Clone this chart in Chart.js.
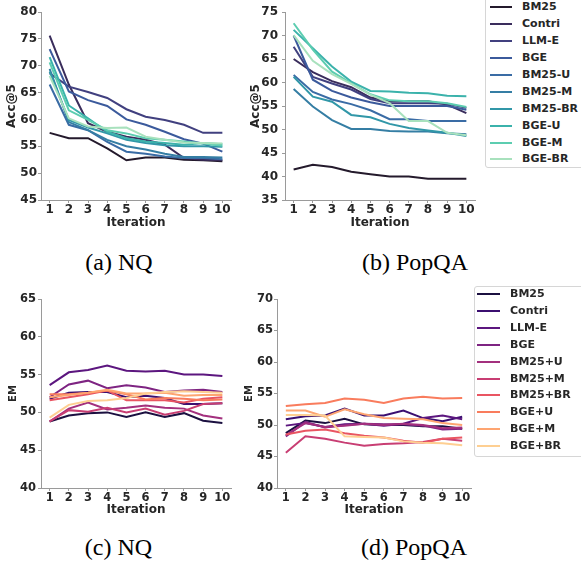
<!DOCTYPE html>
<html><head><meta charset="utf-8">
<script src="https://cdn.jsdelivr.net/npm/chart.js@4/dist/chart.umd.min.js"></script>
<style>
html,body{margin:0;padding:0;background:#fff;}
#wrap{position:relative;width:581px;height:566px;overflow:hidden;background:#fff;}
canvas{position:absolute;}
.cap{position:absolute;font-family:"Liberation Serif","DejaVu Serif",serif;font-size:24px;color:#000;transform:translate(-50%,-50%);white-space:nowrap;}
.legend{position:absolute;border:1px solid #d6d6d6;border-radius:3px;background:#fff;box-sizing:border-box;}
.lline{position:absolute;height:2px;margin-top:-1px;}
.ltext{position:absolute;font:bold 11px "DejaVu Sans";color:#262626;line-height:14px;margin-top:-7px;white-space:nowrap;}
</style></head>
<body><div id="wrap">
<canvas id="ca"></canvas><canvas id="cb"></canvas><canvas id="cc"></canvas><canvas id="cd"></canvas>
<div class="cap" style="left:119px;top:262px">(a) NQ</div>
<div class="cap" style="left:415px;top:262px">(b) PopQA</div>
<div class="cap" style="left:118.5px;top:547px">(c) NQ</div>
<div class="cap" style="left:414px;top:547px">(d) PopQA</div>
<div id="legTop" class="legend"></div>
<div id="legBot" class="legend"></div>
</div>
<script>
// ---------- data ----------
const iterations = [1,2,3,4,5,6,7,8,9,10];
const accTicksNQ = [45,50,55,60,65,70,75,80];
const accTicksPop = [35,40,45,50,55,60,65,70,75];
const emTicksNQ = [40,45,50,55,60,65];
const emTicksPop = [40,45,50,55,60,65,70];

const namesTop = ['BM25','Contri','LLM-E','BGE','BM25-U','BM25-M','BM25-BR','BGE-U','BGE-M','BGE-BR'];
const namesBot = ['BM25','Contri','LLM-E','BGE','BM25+U','BM25+M','BM25+BR','BGE+U','BGE+M','BGE+BR'];
const colorsTop = ['#241a2c','#3a2d5c','#41407f','#3b5a9c','#3a6ca5','#357ea4','#3197a8','#3bb2ab','#5ccdb0','#a8e1bd'];
const colorsBot = ['#1b1040','#3b0f70','#5c167f','#7e2482','#a3307e','#c83e73','#e95562','#f97c5d','#fea571','#fecf92'];

// (a) NQ Acc@5
const accNQ_BM25   = [57.5,56.5,56.5,54.6,52.4,52.9,52.9,52.5,52.4,52.2];
const accNQ_Contri = [75.6,66.5,59.3,57.7,56.8,56.2,55.3,52.8,52.5,52.4];
const accNQ_LLME   = [68.6,66.1,65.1,64.0,61.9,60.5,59.9,59.0,57.5,57.5];
const accNQ_BGE    = [73.1,65.2,63.6,62.5,60.0,59.0,57.7,56.3,55.5,54.0];
const accNQ_BM25U  = [66.5,59.0,58.0,55.8,54.0,53.6,53.1,52.8,52.8,52.6];
const accNQ_BM25M  = [69.4,59.5,58.0,56.2,55.0,54.4,53.6,53.0,53.0,52.9];
const accNQ_BM25BR = [68.9,59.9,58.5,57.4,56.2,55.6,55.2,55.0,55.0,54.9];
const accNQ_BGEU   = [71.6,62.6,60.2,57.7,56.5,55.9,55.6,55.3,55.6,55.4];
const accNQ_BGEM   = [70.6,61.7,59.9,58.0,57.4,56.5,56.2,55.9,55.5,55.1];
const accNQ_BGEBR  = [68.1,60.2,58.7,58.4,58.5,56.8,56.2,55.7,55.6,55.5];

// (b) PopQA Acc@5
const accPop_BM25   = [41.5,42.5,42.0,41.0,40.5,40.0,40.0,39.5,39.5,39.5];
const accPop_Contri = [65.0,62.2,60.3,59.0,56.8,56.0,56.0,56.0,55.3,53.5];
const accPop_LLME   = [67.6,61.2,59.8,58.5,56.5,55.6,55.6,55.6,55.5,54.6];
const accPop_BGE    = [70.0,60.6,58.2,56.8,55.8,55.0,55.0,55.0,55.0,54.2];
const accPop_BM25U  = [61.6,58.0,56.4,55.4,54.1,52.2,52.2,51.8,51.8,51.8];
const accPop_BM25M  = [58.6,54.9,52.0,50.1,50.1,49.7,49.6,49.6,49.2,49.0];
const accPop_BM25BR = [61.2,57.0,55.9,53.1,52.6,51.2,50.3,49.8,49.3,48.6];
const accPop_BGEU   = [71.2,67.3,63.4,60.2,58.2,58.1,57.8,57.7,57.2,57.1];
const accPop_BGEM   = [72.6,67.0,62.3,59.8,57.5,56.2,56.0,56.0,55.6,54.8];
const accPop_BGEBR  = [70.1,64.6,61.8,59.7,57.4,55.6,51.8,51.8,49.3,48.8];

// (c) NQ EM
const emNQ_BM25   = [48.8,49.6,49.9,50.0,49.4,50.0,49.4,49.9,48.9,48.6];
const emNQ_Contri = [51.8,52.6,52.7,52.7,52.0,52.2,51.9,51.1,51.1,51.2];
const emNQ_LLME   = [53.6,55.3,55.6,56.2,55.5,55.4,55.5,55.0,55.0,54.8];
const emNQ_BGE    = [52.0,53.7,54.2,53.2,53.6,53.3,52.7,52.9,53.0,52.7];
const emNQ_BM25U  = [48.8,50.5,51.3,50.4,50.6,50.9,50.6,50.5,49.6,49.2];
const emNQ_BM25M  = [48.8,50.3,50.1,50.6,50.0,50.5,49.7,50.2,51.1,51.2];
const emNQ_BM25BR = [51.6,52.0,52.4,52.9,51.6,51.6,51.6,51.3,51.8,52.0];
const emNQ_BGEU   = [52.4,52.4,52.6,52.9,52.4,51.7,51.9,51.8,51.6,51.7];
const emNQ_BGEM   = [52.0,52.3,52.6,53.0,52.5,52.5,52.6,52.2,52.3,52.3];
const emNQ_BGEBR  = [49.3,51.0,51.5,51.6,51.9,52.5,52.7,52.8,52.7,52.6];

// (d) PopQA EM
const emPop_BM25   = [48.7,50.7,50.3,51.0,50.1,50.0,50.0,49.8,49.8,49.4];
const emPop_Contri = [50.9,51.4,51.5,52.6,51.5,51.5,52.3,51.1,50.6,51.3];
const emPop_LLME   = [49.9,50.3,49.7,50.1,50.2,49.9,50.2,51.1,51.5,50.9];
const emPop_BGE    = [48.2,50.5,49.6,50.0,50.2,50.1,50.1,49.9,49.3,49.4];
const emPop_BM25U  = [48.4,50.3,49.7,49.9,50.2,50.0,50.2,50.0,49.5,49.6];
const emPop_BM25M  = [45.6,48.2,47.8,47.2,46.7,47.0,47.1,47.3,47.8,47.5];
const emPop_BM25BR = [48.5,49.1,49.3,48.7,48.3,48.0,47.5,47.2,47.8,48.0];
const emPop_BGEU   = [53.0,53.3,53.5,54.2,54.0,53.5,54.2,54.5,54.2,54.3];
const emPop_BGEM   = [52.3,52.3,51.3,52.5,51.7,51.1,51.0,50.9,50.3,50.0];
const emPop_BGEBR  = [51.6,51.6,51.5,48.2,48.1,48.0,47.4,47.2,47.1,46.8];

// ---------- drawing ----------
Chart.defaults.font.family = 'DejaVu Sans';
const TXT = '#262626', SPINE = '#9a9a9a';

function panel(id, box, plot, yTicks, names, colors, series, yTitle, st) {
  const cv = document.getElementById(id);
  cv.width = box.w; cv.height = box.h;
  cv.style.left = box.x + 'px'; cv.style.top = box.y + 'px';
  cv.style.width = box.w + 'px'; cv.style.height = box.h + 'px';
  const xlh = st.xTitleSize * 1.2, ylh = st.yTitleSize * 1.2;
  new Chart(cv, {
    type: 'line',
    data: {
      datasets: names.map((n, i) => ({
        label: n,
        data: iterations.map((x, j) => ({x: x, y: series[i][j]})),
        borderColor: colors[i], backgroundColor: colors[i],
        borderWidth: 2, pointRadius: 0, tension: 0, fill: false,
        order: names.length - 1 - i
      }))
    },
    options: {
      responsive: false, animation: false, devicePixelRatio: 1,
      layout: {padding: {left: 0, top: plot.t - box.y, right: box.x + box.w - plot.r, bottom: 0}},
      plugins: {legend: {display: false}, tooltip: {enabled: false}},
      scales: {
        x: {
          type: 'linear', min: 0.55, max: 10.45,
          afterBuildTicks: s => { s.ticks = iterations.map(v => ({value: v})); },
          afterFit: s => { s.height = box.y + box.h - plot.b; },
          grid: {drawOnChartArea: false, drawTicks: true, tickLength: st.tl, tickColor: SPINE, tickWidth: 1},
          border: {display: true, color: SPINE, width: 1},
          ticks: {font: {size: st.tickSize, weight: 'bold'}, color: TXT, padding: st.xPad, maxRotation: 0, autoSkip: false},
          title: {display: true, text: 'Iteration', color: TXT, font: {size: st.xTitleSize, weight: 'bold'},
                  padding: {top: 0, bottom: (box.y + box.h) - st.xTitleY - xlh / 2}}
        },
        y: {
          min: yTicks[0], max: yTicks[yTicks.length - 1],
          afterBuildTicks: s => { s.ticks = yTicks.map(v => ({value: v})); },
          afterFit: s => { s.width = plot.l - box.x; },
          grid: {drawOnChartArea: false, drawTicks: true, tickLength: st.tl, tickColor: SPINE, tickWidth: 1},
          border: {display: true, color: SPINE, width: 1},
          ticks: {font: {size: st.tickSize, weight: 'bold'}, color: TXT, padding: st.yPad},
          title: {display: true, text: yTitle, color: TXT, font: {size: st.yTitleSize, weight: 'bold'},
                  padding: {top: st.yTitleX - box.x - ylh / 2, bottom: 0}}
        }
      }
    }
  });
}

const topStyle = {tickSize: 12, xTitleSize: 12, yTitleSize: 12, tl: 3, xPad: 0, yPad: 1, xTitleY: 223};
panel('ca', {x: 0, y: 0, w: 240, h: 236}, {l: 41, t: 12, r: 231, b: 200}, accTicksNQ, namesTop, colorsTop,
  [accNQ_BM25, accNQ_Contri, accNQ_LLME, accNQ_BGE, accNQ_BM25U, accNQ_BM25M, accNQ_BM25BR, accNQ_BGEU, accNQ_BGEM, accNQ_BGEBR],
  'Acc@5', Object.assign({}, topStyle, {yTitleX: 12}));
panel('cb', {x: 240, y: 0, w: 245, h: 236}, {l: 285, t: 12, r: 475, b: 200}, accTicksPop, namesTop, colorsTop,
  [accPop_BM25, accPop_Contri, accPop_LLME, accPop_BGE, accPop_BM25U, accPop_BM25M, accPop_BM25BR, accPop_BGEU, accPop_BGEM, accPop_BGEBR],
  'Acc@5', Object.assign({}, topStyle, {yTitleX: 256, yPad: 4}));

const botStyle = {tickSize: 11.5, xTitleSize: 12, yTitleSize: 10, tl: 3, xPad: 0, yPad: 2, xTitleY: 510};
panel('cc', {x: 0, y: 280, w: 240, h: 240}, {l: 41, t: 299, r: 231, b: 488}, emTicksNQ, namesBot, colorsBot,
  [emNQ_BM25, emNQ_Contri, emNQ_LLME, emNQ_BGE, emNQ_BM25U, emNQ_BM25M, emNQ_BM25BR, emNQ_BGEU, emNQ_BGEM, emNQ_BGEBR],
  'EM', Object.assign({}, botStyle, {yTitleX: 13}));
panel('cd', {x: 240, y: 280, w: 240, h: 240}, {l: 277, t: 299, r: 471, b: 488}, emTicksPop, namesBot, colorsBot,
  [emPop_BM25, emPop_Contri, emPop_LLME, emPop_BGE, emPop_BM25U, emPop_BM25M, emPop_BM25BR, emPop_BGEU, emPop_BGEM, emPop_BGEBR],
  'EM', Object.assign({}, botStyle, {yTitleX: 249, yPad: 1}));

// ---------- legends ----------
function legend(id, box, rowY0, rowStep, lineX, lineW, textX, names, colors) {
  const el = document.getElementById(id);
  el.style.left = box.x + 'px'; el.style.top = box.y + 'px';
  el.style.width = box.w + 'px'; el.style.height = box.h + 'px';
  names.forEach((n, i) => {
    const y = rowY0 + i * rowStep - box.y - 1;
    const ln = document.createElement('div');
    ln.className = 'lline';
    ln.style.left = (lineX - box.x - 1) + 'px'; ln.style.width = lineW + 'px';
    ln.style.top = y + 'px'; ln.style.background = colors[i];
    const tx = document.createElement('div');
    tx.className = 'ltext';
    tx.style.left = (textX - box.x - 1) + 'px'; tx.style.top = y + 'px';
    tx.textContent = n;
    el.appendChild(ln); el.appendChild(tx);
  });
}
legend('legTop', {x: 485, y: -3, w: 110, h: 171}, 7.3, 16.9, 490, 22, 522, namesTop, colorsTop);
legend('legBot', {x: 474, y: 286, w: 120, h: 171}, 294.3, 16.85, 477, 23, 510, namesBot, colorsBot);
</script>
</body></html>
